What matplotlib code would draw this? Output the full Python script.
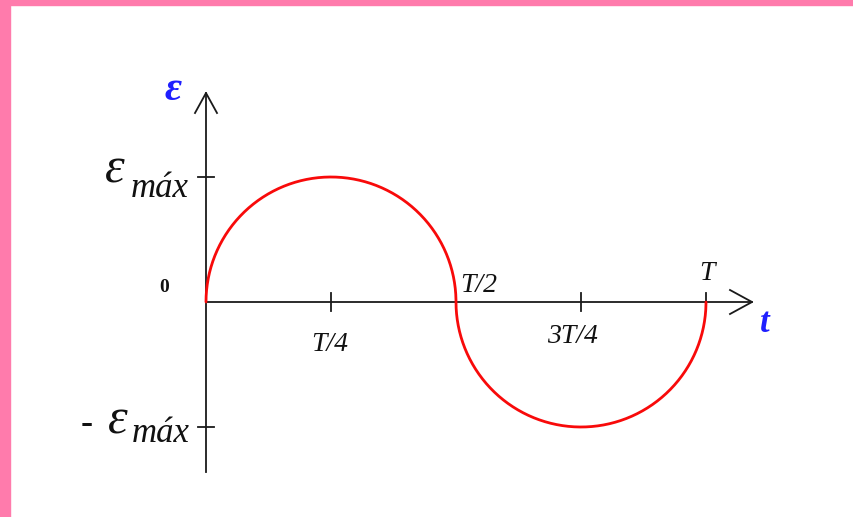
import numpy as np
import matplotlib.pyplot as plt
from matplotlib.patches import Rectangle

# period and peak emf (one quarter period drawn as one unit)
T = 4.0
emf_max = 1.0
tick_pos = [T / 4, T / 2, 3 * T / 4, T]
tick_labels = ["T/4", "T/2", "3T/4", "T"]
y_ticks = [emf_max, -emf_max]

SCALE = 125.0  # pixels per data unit
W, H = 854, 517
X0, Y0 = 206, 302  # origin in pixels from top-left

SERIF = "Liberation Serif"


def px(n):
    return n / SCALE


fig = plt.figure(figsize=(W / 100, H / 100), dpi=100)
ax = fig.add_axes([0, 0, 1, 1])
ax.set_xlim(-X0 / SCALE, (W - X0) / SCALE)
ax.set_ylim(-(H - Y0) / SCALE, Y0 / SCALE)
ax.axis("off")

# pink frame strips along top and left
fig.patches.append(Rectangle((0, 1 - 5 / H), 1, 5 / H, transform=fig.transFigure,
                             color="#ff7bac", zorder=0))
fig.patches.append(Rectangle((0, 0), 10 / W, 1, transform=fig.transFigure,
                             color="#ff7bac", zorder=0))

axc = "#1a1a1a"
lw_ax = 1.3

# axes lines with open arrow heads
x_end = px(752 - X0)
y_top = px(Y0 - 93)
y_bot = -px(472 - Y0)
ax.plot([0, x_end], [0, 0], color=axc, lw=lw_ax)
ax.plot([0, 0], [y_bot, y_top], color=axc, lw=lw_ax)
ax.plot([x_end - px(22), x_end, x_end - px(22)], [px(12), 0, -px(12)],
        color=axc, lw=lw_ax)
ax.plot([-px(11), 0, px(11)], [y_top - px(20), y_top, y_top - px(20)],
        color=axc, lw=lw_ax)

# tick marks
for xt in tick_pos:
    ax.plot([xt, xt], [-px(9), px(9)], color=axc, lw=lw_ax)
for yt in y_ticks:
    ax.plot([-px(8), px(8)], [yt, yt], color=axc, lw=lw_ax)

# emf curve: two half-ellipses
th = np.linspace(np.pi, 0, 200)
x1 = T / 4 + T / 4 * np.cos(th)
y1 = emf_max * np.sin(th)
x2 = 3 * T / 4 + T / 4 * np.cos(th)
y2 = -emf_max * np.sin(th)
ax.plot(np.r_[x1, x2], np.r_[y1, y2], color="#f80a0a", lw=2.0,
        solid_capstyle="round", zorder=3)

it = dict(family=SERIF, style="italic", color="#111111")

# x tick labels
label_xy = {
    "T/4": (330, 351),
    "T/2": (479, 292),
    "3T/4": (572, 343),
    "T": (707, 280),
}
for xt, lab in zip(tick_pos, tick_labels):
    lx, ly = label_xy[lab]
    ax.text(px(lx - X0), px(Y0 - ly), lab, fontsize=20, ha="center",
            va="baseline", **it)

ax.text(px(164 - X0), px(Y0 - 292), "0", fontsize=14, ha="center",
        va="baseline", family=SERIF, weight="bold", color="#111111")

# y labels
ax.text(px(105 - X0), emf_max - px(5), "ε", fontsize=36, ha="left",
        va="baseline", **it)
ax.text(px(189 - X0), emf_max - px(20), "máx", fontsize=25, ha="right",
        va="baseline", **it)
ax.text(px(81 - X0), -emf_max - px(6), "-", fontsize=26, ha="left",
        va="baseline", family=SERIF, weight="bold", color="#111111")
ax.text(px(108 - X0), -emf_max - px(7), "ε", fontsize=36, ha="left",
        va="baseline", **it)
ax.text(px(190 - X0), -emf_max - px(15), "máx", fontsize=25, ha="right",
        va="baseline", **it)

# axis names
blue = dict(family=SERIF, style="italic", weight="bold", color="#1f1fff")
ax.text(px(173 - X0), px(Y0 - 100), "ε", fontsize=30, ha="center",
        va="baseline", **blue)
ax.text(px(765 - X0), px(Y0 - 332), "t", fontsize=25, ha="center",
        va="baseline", **blue)

fig.savefig("out.png", dpi=100)
